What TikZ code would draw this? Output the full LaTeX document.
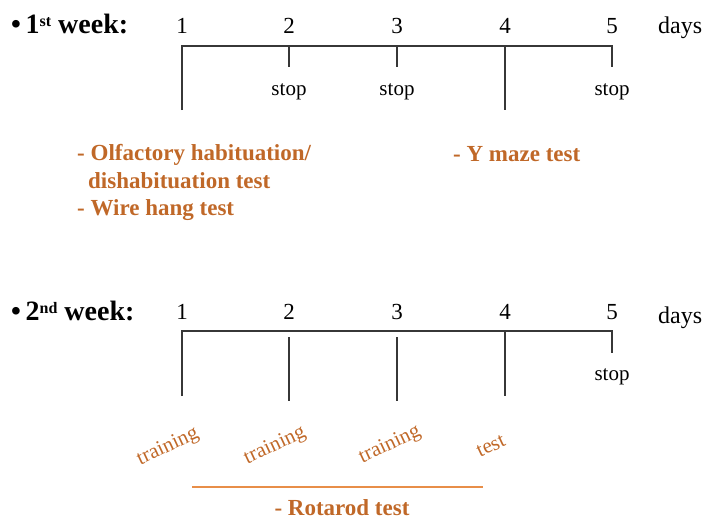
\documentclass[tikz,border=0pt]{standalone}
\usepackage{fontspec}
\setmainfont{Liberation Serif}
\definecolor{labelorange}{RGB}{192,104,40}
\definecolor{barorange}{RGB}{232,142,72}
\definecolor{axisgray}{RGB}{55,55,55}
% small ordinal suffix, raised only a little above the baseline
\newcommand{\ordsuffix}[1]{\raisebox{7pt}{\fontsize{16}{16}\selectfont #1}}
\begin{document}
\begin{tikzpicture}[x=1pt,y=-1pt,
  axis/.style={draw=axisgray,line width=1.2pt},
  daynum/.style={anchor=base,font=\fontsize{23}{26}\selectfont,inner sep=0pt},
  weeklabel/.style={anchor=base west,font=\fontsize{28}{32}\selectfont\bfseries,inner sep=0pt},
  unitlabel/.style={anchor=base west,font=\fontsize{24}{28}\selectfont,inner sep=0pt},
  stoplabel/.style={anchor=base,font=\fontsize{21}{24}\selectfont,inner sep=0pt},
  testlabel/.style={anchor=base west,font=\fontsize{23}{26}\selectfont\bfseries,text=labelorange,inner sep=0pt},
  sessionlabel/.style={anchor=center,rotate=25,font=\fontsize{21}{24}\selectfont,text=labelorange,inner sep=0pt},
]
\useasboundingbox (0,0) rectangle (705,531);

% ---------- first week ----------
\node[weeklabel] (w1) at (11,33) {\textbullet\,1\ordsuffix{st} week:};
\foreach \i/\x in {1/182,2/289,3/397,4/505,5/612}
  \node[daynum] (a\i) at (\x,33) {\i};
\node[unitlabel] (d1) at (658,33) {days};

\coordinate (a1top) at (182,46);
\coordinate (a1bot) at (182,110);
\coordinate (a2top) at (289,46);
\coordinate (a2bot) at (289,67);
\coordinate (a3top) at (397,46);
\coordinate (a3bot) at (397,67);
\coordinate (a4top) at (505,46);
\coordinate (a4bot) at (505,110);
\coordinate (a5top) at (612,46);
\coordinate (a5bot) at (612,67);
\draw[axis] (a1bot) -- (a1top) -- (a5top) -- (a5bot);
\draw[axis] (a2top) -- (a2bot);
\draw[axis] (a3top) -- (a3bot);
\draw[axis] (a4top) -- (a4bot);

\node[stoplabel] (s2) at (289,95) {stop};
\node[stoplabel] (s3) at (397,95) {stop};
\node[stoplabel] (s5) at (612,95) {stop};

\node[testlabel] (olf) at (77,160) {- Olfactory habituation/};
\node[testlabel] (dis) at (88,188) {dishabituation test};
\node[testlabel] (wire) at (77,215) {- Wire hang test};
\node[testlabel] (ymaze) at (453,161) {- Y maze test};

% ---------- second week ----------
\node[weeklabel] (w2) at (11,320) {\textbullet\,2\ordsuffix{nd} week:};
\foreach \i/\x in {1/182,2/289,3/397,4/505,5/612}
  \node[daynum] (b\i) at (\x,319) {\i};
\node[unitlabel] (d2) at (658,323) {days};

\coordinate (b1top) at (182,331);
\coordinate (b1bot) at (182,396);
\coordinate (b2top) at (289,337);
\coordinate (b2bot) at (289,401);
\coordinate (b3top) at (397,337);
\coordinate (b3bot) at (397,401);
\coordinate (b4top) at (505,331);
\coordinate (b4bot) at (505,396);
\coordinate (b5top) at (612,331);
\coordinate (b5bot) at (612,353);
\draw[axis] (b1bot) -- (b1top) -- (b5top) -- (b5bot);
\draw[axis] (b2top) -- (b2bot);
\draw[axis] (b3top) -- (b3bot);
\draw[axis] (b4top) -- (b4bot);

\node[stoplabel] (t5) at (612,380) {stop};

\node[sessionlabel] (tr1) at (168,447) {training};
\node[sessionlabel] (tr2) at (275,446) {training};
\node[sessionlabel] (tr3) at (390,445) {training};
\node[sessionlabel] (te4) at (491,446) {test};

\coordinate (barL) at (192,487);
\coordinate (barR) at (483,487);
\draw[barorange,line width=1.1pt] (barL) -- (barR);
\node[testlabel,anchor=base] (rota) at (342,515) {- Rotarod test};
\end{tikzpicture}
\end{document}
